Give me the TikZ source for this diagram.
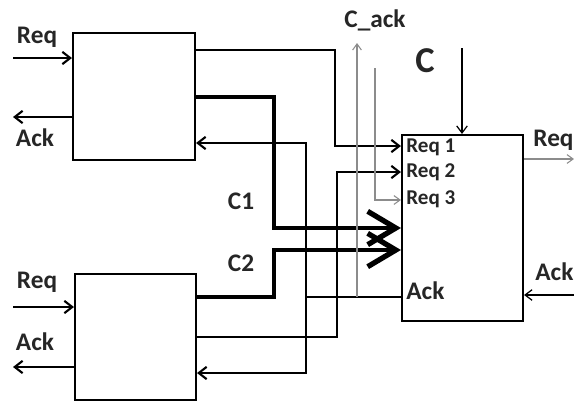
\documentclass[tikz,border=0pt]{standalone}
\usepackage{fontspec}
\setmainfont{Carlito}
\usetikzlibrary{arrows.meta}

\begin{document}
\begin{tikzpicture}[x=0.02cm, y=-0.02cm,
    blk/.style={draw, line width=1.2pt, inner sep=0pt},
    wire/.style={line width=1.2pt, -{Straight Barb[length=4.5pt, width=7pt]}},
    fine/.style={line width=0.7pt, -{Straight Barb[length=4pt, width=6pt]}},
    bus/.style={line width=2.5pt, -{Straight Barb[length=16pt, width=19pt, line width=3pt]}},
    sig/.style={black!45, line width=0.6pt, -{Straight Barb[length=3.5pt, width=5pt]}},
    lbl/.style={font=\bfseries, text=black!85, inner sep=0pt}]
  \useasboundingbox (0,0) rectangle (574,403);
  % the three blocks
  \node[blk, minimum width=2.44cm, minimum height=2.54cm] (blkA) at (134,96.5) {};
  \node[blk, minimum width=2.42cm, minimum height=2.52cm] (blkB) at (135.5,337) {};
  \node[blk, minimum width=2.42cm, minimum height=3.72cm] (arb) at (462.5,228) {};
  % free ends
  \coordinate (reqA) at (13,58);
  \coordinate (ackA) at (13,117);
  \coordinate (reqB) at (13,307);
  \coordinate (ackB) at (13,367);
  \coordinate (cIn) at (462,48);
  \coordinate (cAck) at (357,43);
  \coordinate (gTop) at (375,68);
  \coordinate (reqO) at (574,159);
  \coordinate (ackO) at (574,295);
  % handshakes on the left
  \draw[wire] (reqA) -- (reqA -| blkA.west);
  \draw[wire] (ackA -| blkA.west) -- (ackA);
  \draw[wire] (reqB) -- (reqB -| blkB.west);
  \draw[wire] (ackB -| blkB.west) -- (ackB);
  \node[lbl, font=\Large\bfseries] at (37,37) {Req};
  \node[lbl, font=\Large\bfseries] at (35,138) {Ack};
  \node[lbl, font=\Large\bfseries] at (37,282) {Req};
  \node[lbl, font=\Large\bfseries] at (35,342) {Ack};
  % requests into the arbiter
  \draw[wire] (blkA.east |- 0,50) -| (335,146) -- (arb.west |- 0,146);
  \draw[wire] (blkB.east |- 0,337) -| (337,172) -- (arb.west |- 0,172);
  \draw[sig] (gTop) |- (arb.west |- 0,200);
  % data buses
  \draw[bus] (blkA.east |- 0,97) -| (274,228) -- (arb.west |- 0,228);
  \draw[bus] (blkB.east |- 0,297) -| (274,250) -- (arb.west |- 0,250);
  \node[lbl, font=\Large\bfseries] at (241,201) {C1};
  \node[lbl, font=\Large\bfseries] at (241,263) {C2};
  % acknowledge back to both blocks
  \draw[wire] (arb.west |- 0,297) -| (306,143) -- (blkA.east |- 0,143);
  \draw[wire] (306,297) |- (blkB.east |- 0,373);
  \draw[sig] (357,297) -- (cAck);
  \node[lbl, font=\Large\bfseries] at (375,20) {C\_ack};
  % control and right side
  \draw[fine] (cIn) -- (cIn |- arb.north);
  \node[lbl, font=\huge\bfseries] at (425,61) {C};
  \draw[sig] (arb.east |- 0,159) -- (reqO);
  \draw[fine] (ackO) -- (ackO -| arb.east);
  \node[lbl, font=\Large\bfseries, anchor=west] at (533,140) {Req};
  \node[lbl, font=\Large\bfseries, anchor=west] at (535,272) {Ack};
  % port names inside the arbiter
  \node[lbl, font=\large\bfseries, anchor=west] at (406,147) {Req 1};
  \node[lbl, font=\large\bfseries, anchor=west] at (406,172) {Req 2};
  \node[lbl, font=\large\bfseries, anchor=west] at (406,199) {Req 3};
  \node[lbl, font=\Large\bfseries, anchor=west] at (406,291) {Ack};
\end{tikzpicture}
\end{document}
